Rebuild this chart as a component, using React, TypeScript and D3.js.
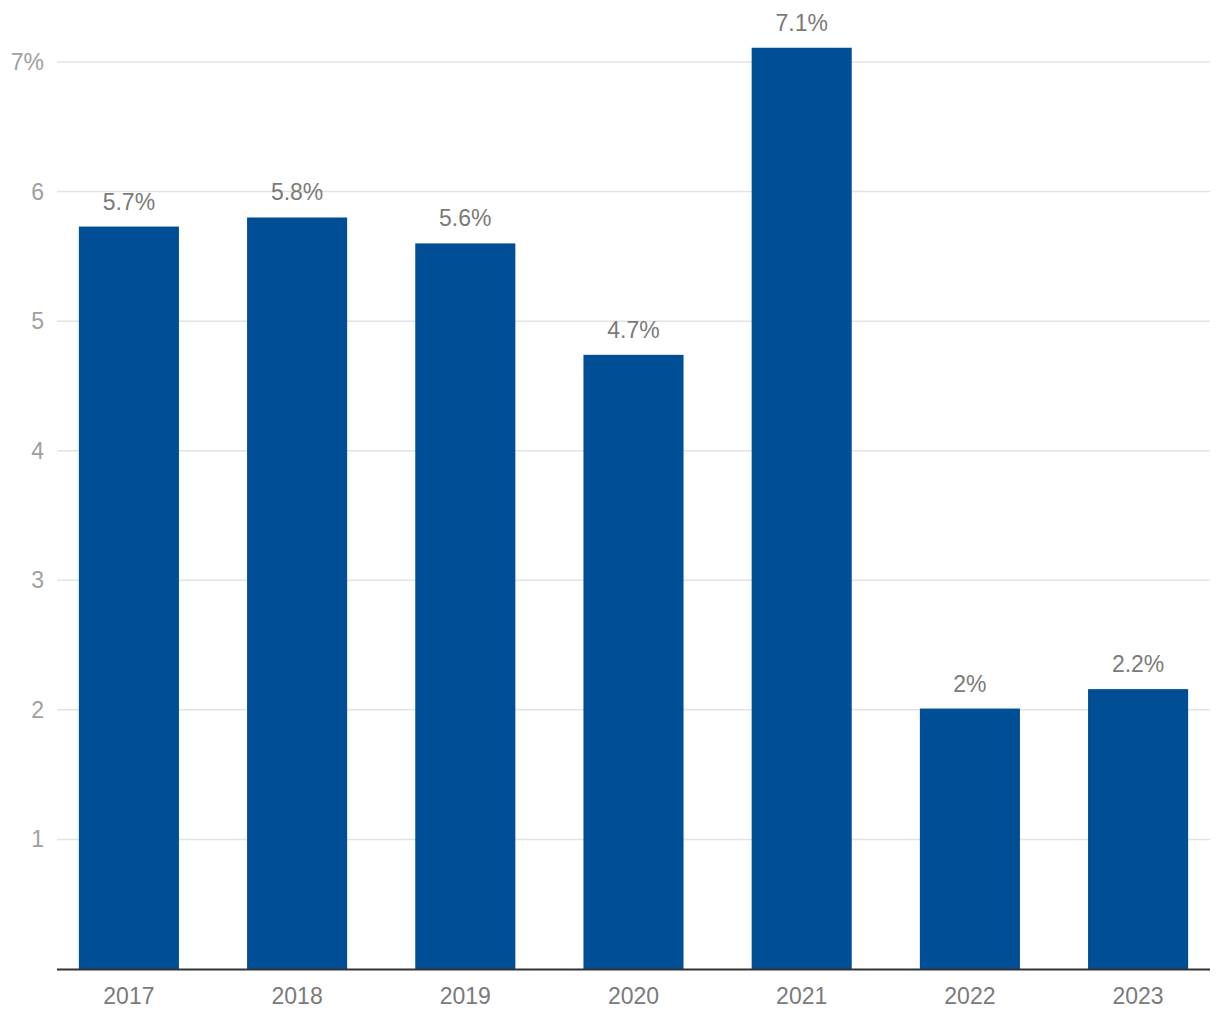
import React from "react";
import * as d3 from "d3";

const years = ["2017", "2018", "2019", "2020", "2021", "2022", "2023"];
const values = [5.73, 5.8, 5.6, 4.74, 7.11, 2.01, 2.16];
const valueLabels = ["5.7%", "5.8%", "5.6%", "4.7%", "7.1%", "2%", "2.2%"];
const yTicks = [1, 2, 3, 4, 5, 6, 7];
const yTickLabels = ["1", "2", "3", "4", "5", "6", "7%"];

const W = 1220;
const H = 1020;
const left = 57;
const right = 1210;
const top = 62;
const bottom = 969;

export default function App() {
  const x = d3.scaleBand<string>().domain(years).range([left, right]).paddingInner(0.405).paddingOuter(0.13);
  const y = d3.scaleLinear().domain([0, 7]).range([bottom, top]);
  const font = "'Liberation Sans', Arial, sans-serif";
  return (
    <svg width={W} height={H} style={{ position: "absolute", left: 0, top: 0, background: "#fff" }}>
      {yTicks.map((t, i) => (
        <g key={t}>
          <line x1={left} x2={right} y1={y(t)} y2={y(t)} stroke="#e3e3e3" strokeWidth={1.5} />
          <text x={44} y={y(t)} dy="0.35em" textAnchor="end" fontFamily={font} fontSize={23} fill="#a0a0a0">
            {yTickLabels[i]}
          </text>
        </g>
      ))}
      {years.map((yr, i) => (
        <g key={yr}>
          <rect x={x(yr)} y={y(values[i])} width={x.bandwidth()} height={bottom - y(values[i])} fill="#004e96" />
          <text x={(x(yr) as number) + x.bandwidth() / 2} y={y(values[i]) - 17} textAnchor="middle" fontFamily={font} fontSize={23} fill="#7a7a7a">
            {valueLabels[i]}
          </text>
          <text x={(x(yr) as number) + x.bandwidth() / 2} y={1003.5} textAnchor="middle" fontFamily={font} fontSize={23} fill="#7a7a7a">
            {yr}
          </text>
        </g>
      ))}
      <line x1={left} x2={right} y1={bottom + 0.5} y2={bottom + 0.5} stroke="#333" strokeWidth={2} />
    </svg>
  );
}
